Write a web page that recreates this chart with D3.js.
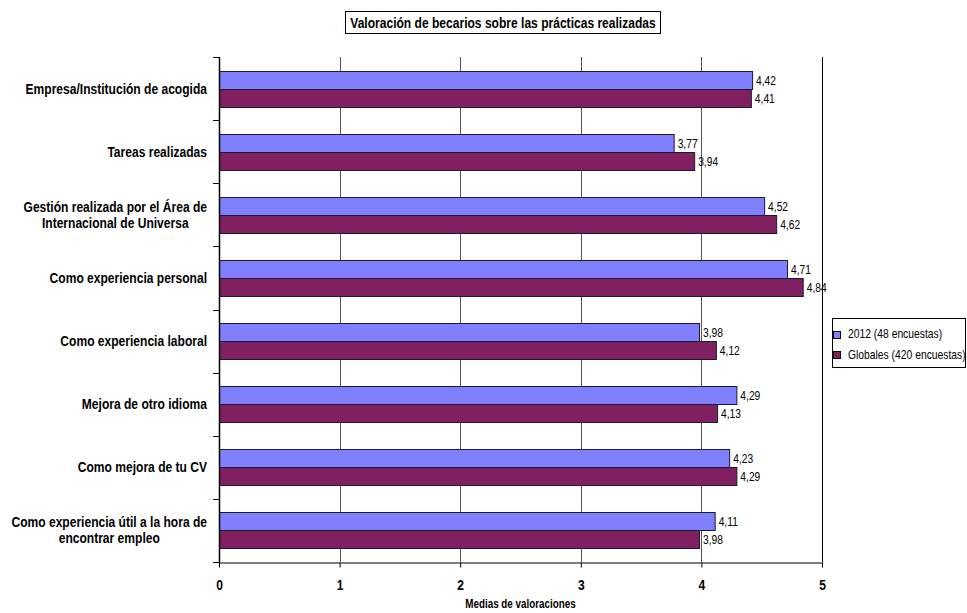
<!DOCTYPE html>
<html><head><meta charset="utf-8">
<script src="https://cdn.jsdelivr.net/npm/d3@7"></script>
<style>
body{margin:0;background:#fff;}
text{font-family:"Liberation Sans",Arial,sans-serif;fill:#000;}
</style></head>
<body><svg id="c" width="967" height="613"></svg>
<script>
const categories = [
  "Empresa/Institución de acogida",
  "Tareas realizadas",
  "Gestión realizada por el Área de\nInternacional de Universa",
  "Como experiencia personal",
  "Como experiencia laboral",
  "Mejora de otro idioma",
  "Como mejora de tu CV",
  "Como experiencia útil a la hora de\nencontrar empleo"
];
const seriesNames = ["2012 (48 encuestas)", "Globales (420 encuestas)"];
const values2012 = [4.42, 3.77, 4.52, 4.71, 3.98, 4.29, 4.23, 4.11];
const valuesGlobal = [4.41, 3.94, 4.62, 4.84, 4.12, 4.13, 4.29, 3.98];
const xTicks = [0, 1, 2, 3, 4, 5];
const colors = ["#8080FF", "#802060"];
const titleText = "Valoración de becarios sobre las prácticas realizadas";
const xTitle = "Medias de valoraciones";

const NARROW = 0.82;
const svg = d3.select("#c");
const L = 219, R = 822, T = 57, B = 562;
const x = d3.scaleLinear().domain([0, 5]).range([L, R]);
const y = d3.scaleBand().domain(categories).range([T, B]).paddingInner(0.43).paddingOuter(0.215);
const sub = d3.scaleBand().domain([0, 1]).range([0, y.bandwidth()]);
const fmt = v => v.toFixed(2).replace(".", ",");

function ntext(parent, px, py, str, size, weight, anchor) {
  return parent.append("text")
    .attr("transform", `translate(${px},${py}) scale(${NARROW},1)`)
    .attr("font-size", size).attr("font-weight", weight || "normal")
    .attr("text-anchor", anchor || "start").text(str);
}

// title box
svg.append("rect").attr("x", 345.5).attr("y", 11.5).attr("width", 315).attr("height", 22)
  .attr("fill", "#fff").attr("stroke", "#000").attr("stroke-width", 1);
ntext(svg, 503, 27.5, titleText, 14.7, "bold", "middle");

// gridlines
svg.append("g").selectAll("line").data(xTicks.filter(d => d > 0)).join("line")
  .attr("x1", d => Math.round(x(d)) + 0.5).attr("x2", d => Math.round(x(d)) + 0.5).attr("y1", T).attr("y2", B)
  .attr("stroke", d => d === 5 ? "#000" : "#555").attr("stroke-width", 1);

// bars
const data = categories.map((c, i) => ({c, v: [values2012[i], valuesGlobal[i]]}));
const g = svg.append("g");
data.forEach(d => {
  d.v.forEach((v, s) => {
    const yy = Math.round(y(d.c) + sub(s)) + 0.5;
    g.append("rect").attr("x", x(0) + 0.5).attr("y", yy).attr("width", x(v) - x(0)).attr("height", Math.round(sub.bandwidth()))
      .attr("fill", colors[s]).attr("stroke", "#1a1a33").attr("stroke-width", 1);
    ntext(g, x(v) + 4, yy + sub.bandwidth() / 2 + 4.5, fmt(v), 12.5, "normal", "start");
  });
});

// x axis
const xa = svg.append("g").attr("transform", `translate(0,${B + 0.5})`)
  .call(d3.axisBottom(x).tickValues(xTicks).tickFormat(d3.format("d")).tickSize(5).tickPadding(12).tickSizeOuter(0));
xa.select(".domain").attr("stroke", "#000");
xa.selectAll(".tick line").attr("stroke", "#000");
xa.selectAll("text").attr("font-size", 14.7).attr("font-weight", "bold").attr("font-family", null)
  .attr("transform", `scale(${NARROW},1)`).attr("fill", "#000");

// y axis
svg.append("line").attr("x1", L + 0.5).attr("x2", L + 0.5).attr("y1", T).attr("y2", B + 1)
  .attr("stroke", "#000").attr("stroke-width", 1.5);
const bounds = d3.range(categories.length + 1).map(i => T + i * (B - T) / categories.length);
svg.append("g").selectAll("line").data(bounds).join("line")
  .attr("x1", L - 6).attr("x2", L).attr("y1", d => Math.round(d) + 0.5).attr("y2", d => Math.round(d) + 0.5)
  .attr("stroke", "#000");

// category labels
const lab = svg.append("g");
categories.forEach(c => {
  const lines = c.split("\n");
  const cy = y(c) + y.bandwidth() / 2;
  const ts = lines.map((ln, k) => ntext(lab, 0, cy + (k - (lines.length - 1) / 2) * 16 + 5, ln, 14.7, "bold", "middle"));
  const w = d3.max(ts, t => t.node().getComputedTextLength()) * NARROW;
  ts.forEach((t, k) => t.attr("transform", `translate(${207 - w / 2},${cy + (k - (lines.length - 1) / 2) * 16 + 5}) scale(${NARROW},1)`));
});

// x title
ntext(svg, (L + R) / 2, 608, xTitle, 12, "bold", "middle");

// legend
const lg = svg.append("g");
lg.append("rect").attr("x", 832.5).attr("y", 318.5).attr("width", 133).attr("height", 49)
  .attr("fill", "#fff").attr("stroke", "#000");
seriesNames.forEach((n, i) => {
  const yy = 333.5 + i * 20.5;
  lg.append("rect").attr("x", 833.5).attr("y", Math.round(yy - 3) + 0.5).attr("width", 7).attr("height", 7)
    .attr("fill", colors[i]).attr("stroke", "#000");
  ntext(lg, 848, yy + 4.5, n, 12.6, "normal", "start");
});
</script></body></html>
